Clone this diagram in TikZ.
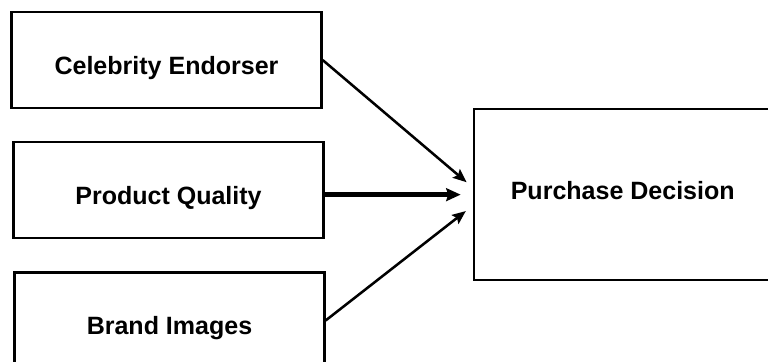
\documentclass[tikz,border=0pt]{standalone}
\usepackage{fontspec}
\setmainfont{Liberation Sans}
\usepackage{tikz}
\usetikzlibrary{shapes,arrows,arrows.meta,positioning}

\begin{document}
\begin{tikzpicture}[
    node distance=0.8cm,
    box/.style={rectangle, draw, line width=1.6pt, minimum width=7.75cm, minimum height=2.4cm, text height=0.7cm, text depth=0pt, align=center, font=\bfseries\fontsize{17.8}{21}\selectfont},
    arrow/.style={-{Stealth[length=0.34cm,width=0.28cm,inset=0.06cm]}, line width=1.8pt},
    boldarrow/.style={-{Stealth[length=0.36cm,width=0.32cm,inset=0.05cm]}, line width=3.4pt}
]
\useasboundingbox (0,0) rectangle (19.2,-9.025);

% Independent variables
\node[box] (ce) at (4.1625,-1.5) {Celebrity Endorser};
\node[box, below=0.8cm of ce, xshift=0.05cm] (pq) {Product Quality};
\node[box, below=0.8cm of pq, xshift=0.025cm] (bi) {Brand Images};

% Dependent variable
\node[box, minimum width=7.45cm, minimum height=4.275cm, text height=0.25cm, right=3.7cm of pq, yshift=-0.11cm] (pd) {Purchase Decision};

% Arrows
\draw[arrow] (ce.east) -- ([xshift=-0.15cm,yshift=0.31cm]pd.west);
\draw[boldarrow] (pq.east |- pd.west) -- ([xshift=-0.3cm]pd.west);
\draw[arrow] (bi.east) -- ([xshift=-0.17cm,yshift=-0.41cm]pd.west);

\end{tikzpicture}
\end{document}
